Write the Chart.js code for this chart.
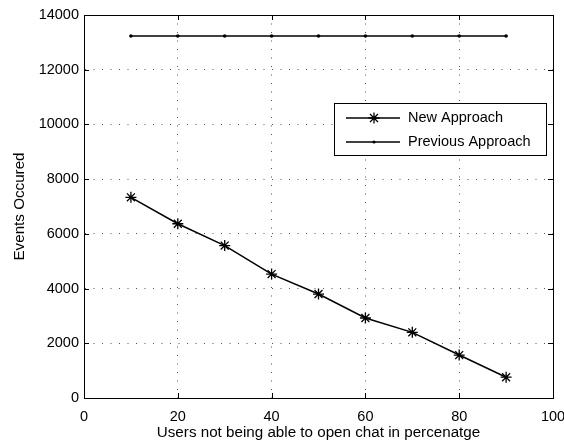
<!DOCTYPE html>
<html><head><meta charset="utf-8">
<script src="https://cdn.jsdelivr.net/npm/chart.js@4/dist/chart.umd.min.js"></script>
<style>html,body{margin:0;padding:0;background:#fff}#wrap{width:564px;height:443px}</style>
</head><body><div id="wrap"><canvas id="c" width="564" height="443"></canvas></div>
<script>
const xValues = [10, 20, 30, 40, 50, 60, 70, 80, 90];
const newApproach = [7335, 6370, 5570, 4530, 3800, 2925, 2400, 1570, 760];
const previousApproach = [13230, 13230, 13230, 13230, 13230, 13230, 13230, 13230, 13230];
const seriesNames = ['New Approach', 'Previous Approach'];
const xTicks = [0, 20, 40, 60, 80, 100];
const yTicks = [0, 2000, 4000, 6000, 8000, 10000, 12000, 14000];
const xTitle = 'Users not being able to open chat in percenatge';
const yTitle = 'Events Occured';

const FONT = 'Liberation Sans, Arial, Helvetica, sans-serif';
const FS = 14.5;
const TFS = 15.2;

function drawStar(ctx, x, y, r) {
  ctx.beginPath();
  ctx.moveTo(x - r, y); ctx.lineTo(x + r, y);
  ctx.moveTo(x, y - r); ctx.lineTo(x, y + r);
  const d = r * 0.72;
  ctx.moveTo(x - d, y - d); ctx.lineTo(x + d, y + d);
  ctx.moveTo(x - d, y + d); ctx.lineTo(x + d, y - d);
  ctx.stroke();
}

const frame = {
  id: 'frame',
  afterDatasetsDraw(chart) {
    const ctx = chart.ctx, a = chart.chartArea;
    const xs = chart.scales.x, ys = chart.scales.y;
    ctx.save();
    ctx.strokeStyle = '#000';
    ctx.lineWidth = 1;
    ctx.strokeRect(Math.round(a.left) + 0.5, Math.round(a.top) + 0.5, Math.round(a.right - a.left), Math.round(a.bottom - a.top));
    ctx.beginPath();
    const tl = 5;
    xTicks.forEach(v => {
      const px = Math.round(xs.getPixelForValue(v)) + 0.5;
      ctx.moveTo(px, a.bottom); ctx.lineTo(px, a.bottom - tl);
      ctx.moveTo(px, a.top); ctx.lineTo(px, a.top + tl);
    });
    yTicks.forEach(v => {
      const py = Math.round(ys.getPixelForValue(v)) + 0.5;
      ctx.moveTo(a.left, py); ctx.lineTo(a.left + tl, py);
      ctx.moveTo(a.right, py); ctx.lineTo(a.right - tl, py);
    });
    ctx.stroke();
    // star markers
    const meta = chart.getDatasetMeta(0);
    ctx.lineWidth = 1.3;
    meta.data.forEach(p => drawStar(ctx, p.x, p.y, 5.5));
    // legend
    const lx = 334, ly = 103, lw = 212, lh = 52;
    ctx.fillStyle = '#fff';
    ctx.fillRect(lx, ly, lw, lh);
    ctx.lineWidth = 1;
    ctx.strokeRect(lx + 0.5, ly + 0.5, lw, lh);
    const rows = [ly + 15, ly + 39];
    rows.forEach((ry, i) => {
      ctx.lineWidth = 1.5;
      ctx.beginPath();
      ctx.moveTo(lx + 12, ry); ctx.lineTo(lx + 66, ry);
      ctx.stroke();
      if (i === 0) { ctx.lineWidth = 1.3; drawStar(ctx, lx + 40, ry, 5.5); }
      else { ctx.fillStyle = '#000'; ctx.beginPath(); ctx.arc(lx + 40, ry, 1.6, 0, Math.PI * 2); ctx.fill(); }
      ctx.fillStyle = '#000';
      ctx.font = FS + 'px ' + FONT;
      ctx.textBaseline = 'middle';
      ctx.textAlign = 'left';
      ctx.fillText(seriesNames[i], lx + 74, ry);
    });
    ctx.restore();
  }
};

new Chart(document.getElementById('c'), {
  type: 'line',
  data: {
    datasets: [
      { label: seriesNames[0], data: xValues.map((x, i) => ({ x, y: newApproach[i] })),
        borderColor: '#000', borderWidth: 1.5, pointRadius: 0, tension: 0 },
      { label: seriesNames[1], data: xValues.map((x, i) => ({ x, y: previousApproach[i] })),
        borderColor: '#000', borderWidth: 1.5, pointRadius: 1.8, pointBackgroundColor: '#000', pointBorderWidth: 0, tension: 0 }
    ]
  },
  options: {
    responsive: false,
    animation: false,
    layout: { padding: { left: 0, top: 15, right: 11, bottom: 0 } },
    plugins: { legend: { display: false }, tooltip: { enabled: false } },
    scales: {
      x: {
        type: 'linear', min: 0, max: 100,
        afterBuildTicks: s => { s.ticks = xTicks.map(v => ({ value: v })); },
        afterFit: s => { s.height = 45; s.paddingRight = 0; s.paddingLeft = 0; },
        ticks: { color: '#000', font: { family: FONT, size: FS }, padding: 10, maxRotation: 0, callback: v => String(v) },
        grid: { color: '#555', lineWidth: 1, drawTicks: false },
        border: { display: true, color: '#000', dash: [1, 7.5] },
        title: { display: true, text: xTitle, color: '#000', font: { family: FONT, size: TFS }, padding: { top: 1.5, bottom: 1.5 } }
      },
      y: {
        type: 'linear', min: 0, max: 14000,
        afterBuildTicks: s => { s.ticks = yTicks.map(v => ({ value: v })); },
        afterFit: s => { s.width = 84; s.paddingTop = 0; s.paddingBottom = 0; },
        ticks: { color: '#000', font: { family: FONT, size: FS }, padding: 5, callback: v => String(v) },
        grid: { color: '#555', lineWidth: 1, drawTicks: false },
        border: { display: true, color: '#000', dash: [1, 7.5] },
        title: { display: true, text: yTitle, color: '#000', font: { family: FONT, size: TFS }, padding: { top: 11, bottom: 11 } }
      }
    }
  },
  plugins: [frame]
});
</script>
</body></html>
